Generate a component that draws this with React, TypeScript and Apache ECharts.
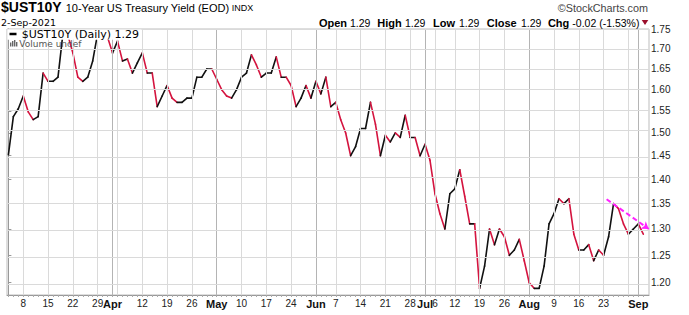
import React, { useEffect, useRef } from 'react';
import * as echarts from 'echarts';

// Daily closes, trading days 2021-03-03 .. 2021-09-02 (index = trading day)
const yields: number[] = [
  1.452, 1.537, 1.555, 1.585, 1.548, 1.53, 1.537, 1.64, 1.62, 1.62,
  1.63, 1.74, 1.735, 1.69, 1.63, 1.62, 1.63, 1.67, 1.74, 1.745,
  1.73, 1.69, 1.72, 1.67, 1.675, 1.64, 1.665, 1.69, 1.64, 1.64,
  1.56, 1.585, 1.61, 1.58, 1.57, 1.57, 1.58, 1.58, 1.63, 1.63,
  1.65, 1.65, 1.625, 1.60, 1.585, 1.58, 1.60, 1.63, 1.64, 1.685,
  1.66, 1.63, 1.64, 1.64, 1.68, 1.63, 1.63, 1.61, 1.56, 1.58,
  1.61, 1.58, 1.62, 1.59, 1.63, 1.56, 1.57, 1.53, 1.50, 1.45,
  1.47, 1.51, 1.51, 1.57, 1.52, 1.45, 1.495, 1.48, 1.50, 1.49,
  1.54, 1.49, 1.49, 1.45, 1.475, 1.44, 1.37, 1.33, 1.30, 1.37,
  1.38, 1.42, 1.365, 1.31, 1.31, 1.19, 1.23, 1.30, 1.27, 1.30,
  1.285, 1.25, 1.26, 1.28, 1.24, 1.20, 1.19, 1.19, 1.23, 1.31,
  1.33, 1.36, 1.35, 1.36, 1.29, 1.26, 1.26, 1.27, 1.24, 1.26,
  1.25, 1.285, 1.35, 1.34, 1.31, 1.29, 1.30, 1.31, 1.29,
];

const xLabelIdx = [3, 8, 13, 18, 21, 27, 32, 37, 42, 47, 52, 57, 62, 66, 71, 76, 81, 84, 86, 90, 95, 100, 105, 110, 115, 120, 127];
const xLabelText = ['8', '15', '22', '29', 'Apr', '12', '19', '26', 'May', '10', '17', '24', 'Jun', '7', '14', '21', '28', 'Jul', '6', '12', '19', '26', 'Aug', '9', '16', '23', 'Sep'];
const monthStartIdx = [21, 42, 62, 84, 105, 127];
const weekStartIdx = [3, 8, 13, 18, 22, 27, 32, 37, 47, 52, 57, 66, 71, 76, 81, 86, 90, 95, 100, 110, 115, 120, 125];
const yTickValues = [1.2, 1.25, 1.3, 1.35, 1.4, 1.45, 1.5, 1.55, 1.6, 1.65, 1.7, 1.75];
const trendStart = [120.6, 1.359];
const trendEnd = [129.1, 1.30];

const quoteLabels = ['Open', 'High', 'Low', 'Close', 'Chg'];
const quoteValues = ['1.29', '1.29', '1.29', '1.29', '-0.02 (-1.53%)'];

const RED = '#d4143f';
const BLACK = '#111111';
const SANS = '"Liberation Sans", Arial, sans-serif';
const VERD = '"DejaVu Sans", Verdana, sans-serif';

export default function App() {
  const ref = useRef<HTMLDivElement>(null);
  useEffect(() => {
    const chart = echarts.init(ref.current!, null, { renderer: 'svg' });
    const ln = Math.log;
    const segs: number[][] = [];
    for (let i = 0; i < yields.length - 1; i++) {
      segs.push([i, ln(yields[i]), i + 1, ln(yields[i + 1])]);
    }
    const gridLines: any[] = [];
    weekStartIdx.forEach((i) => gridLines.push({ xAxis: i, lineStyle: { color: '#dadada', width: 1, type: 'solid' } }));
    monthStartIdx.forEach((i) => gridLines.push({ xAxis: i, lineStyle: { color: '#b4b4b4', width: 1, type: 'solid' } }));
    yTickValues.forEach((v) => gridLines.push({ yAxis: ln(v), lineStyle: { color: '#dadada', width: 1, type: 'solid' } }));

    // label right edges and value left edges measured in the header row
    const labelEnds = [347, 401.7, 455, 516.7, 569.3];
    const valueStarts = [350, 405, 459, 521, 572.3];
    const header: any[] = [];
    quoteLabels.forEach((t, k) => {
      header.push({ type: 'text', z: 100, style: { text: t, x: labelEnds[k], y: 22.5, font: 'bold 11px ' + SANS, fill: '#000', align: 'right', verticalAlign: 'middle' } });
      header.push({ type: 'text', z: 100, style: { text: quoteValues[k], x: valueStarts[k], y: 22.5, font: '10.5px ' + SANS, fill: '#000', verticalAlign: 'middle' } });
    });

    const option: any = {
      animation: false,
      backgroundColor: '#fff',
      grid: { left: 7, right: 40, top: 29, bottom: 20, show: true, borderColor: '#bdbdbd', borderWidth: 1 },
      xAxis: {
        type: 'value', min: -0.28, max: 129.15,
        splitLine: { show: false },
        axisLine: { show: true, lineStyle: { color: '#999' } },
        axisTick: { show: true, customValues: yields.map((_, i) => i), length: 2, lineStyle: { color: '#aaa' } },
        axisLabel: {
          customValues: xLabelIdx, margin: 3, fontSize: 10, color: '#222', fontFamily: SANS,
          formatter: (v: number) => {
            const r = Math.round(v);
            const t = xLabelText[xLabelIdx.indexOf(r)] ?? '';
            return monthStartIdx.includes(r) ? `{m|${t}}` : t;
          },
          rich: { m: { fontWeight: 'bold', fontSize: 11, fontFamily: SANS, color: '#111' } },
        },
      },
      yAxis: {
        type: 'value', position: 'right', min: 0.16401, max: 0.56037,
        splitLine: { show: false },
        axisLine: { show: true, lineStyle: { color: '#999' } },
        axisTick: { show: true, customValues: yTickValues.map(ln), length: 3, lineStyle: { color: '#999' } },
        axisLabel: {
          customValues: yTickValues.map(ln), margin: 2, fontSize: 10, color: '#222', fontFamily: SANS,
          formatter: (v: number) => Math.exp(v).toFixed(2),
        },
      },
      series: [
        {
          type: 'line', data: [], z: 1, silent: true,
          markLine: { silent: true, symbol: ['none', 'none'], label: { show: false }, lineStyle: { type: 'solid' }, data: gridLines },
        },
        {
          type: 'custom', z: 3, data: segs, encode: { x: [0, 2], y: [1, 3] },
          renderItem: (params: any, api: any) => {
            const p1 = api.coord([api.value(0), api.value(1)]);
            const p2 = api.coord([api.value(2), api.value(3)]);
            const down = api.value(3) < api.value(1);
            return {
              type: 'line',
              shape: { x1: p1[0], y1: p1[1], x2: p2[0], y2: p2[1] },
              style: { stroke: down ? RED : BLACK, lineWidth: 1.6, lineCap: 'round' },
            };
          },
        },
        {
          type: 'line', data: [], z: 5, silent: true,
          markLine: {
            silent: true, symbol: ['none', 'arrow'], symbolSize: 7, label: { show: false },
            lineStyle: { color: '#ff22ff', width: 2, type: [5, 3] },
            data: [[{ coord: [trendStart[0], ln(trendStart[1])] }, { coord: [trendEnd[0], ln(trendEnd[1])] }]],
          },
        },
      ],
      graphic: [
        { type: 'text', z: 100, style: { text: '$UST10Y', x: 1, y: 7, font: 'bold 14px ' + SANS, fill: '#000', verticalAlign: 'middle' } },
        { type: 'text', z: 100, style: { text: '10-Year US Treasury Yield (EOD)', x: 65.7, y: 7.5, font: '11px ' + SANS, fill: '#000', verticalAlign: 'middle' } },
        { type: 'text', z: 100, style: { text: 'INDX', x: 231.7, y: 8, font: '9px ' + SANS, fill: '#000', verticalAlign: 'middle' } },
        { type: 'text', z: 100, style: { text: '©StockCharts.com', x: 648, y: 7.5, font: '10.8px ' + SANS, fill: '#444', align: 'right', verticalAlign: 'middle' } },
        { type: 'text', z: 100, style: { text: '2-Sep-2021', x: 1, y: 22, font: '9.5px ' + VERD, fill: '#000', verticalAlign: 'middle' } },
        ...header,
        { type: 'polygon', z: 100, shape: { points: [[641.7, 20], [648.3, 20], [645, 25]] }, style: { fill: '#9b0f2c' } },
        { type: 'rect', z: 90, shape: { x: 7.5, y: 29.5, width: 134, height: 10.3 }, style: { fill: '#fff' } },
        { type: 'line', z: 100, shape: { x1: 9.5, y1: 34, x2: 16.5, y2: 34 }, style: { stroke: '#000', lineWidth: 2.5 } },
        { type: 'text', z: 100, style: { text: '$UST10Y (Daily) 1.29', x: 21.7, y: 34, font: '11px ' + VERD, fill: '#000', verticalAlign: 'middle' } },
        { type: 'rect', z: 100, shape: { x: 10, y: 42.5, width: 1.4, height: 4 }, style: { fill: '#666' } },
        { type: 'rect', z: 100, shape: { x: 12, y: 41, width: 1.4, height: 5.5 }, style: { fill: '#666' } },
        { type: 'rect', z: 100, shape: { x: 14, y: 40, width: 1.4, height: 6.5 }, style: { fill: '#666' } },
        { type: 'rect', z: 100, shape: { x: 16, y: 42, width: 1.4, height: 4.5 }, style: { fill: '#666' } },
        { type: 'text', z: 100, style: { text: 'Volume undef', x: 19.3, y: 44, font: '9px ' + VERD, fill: '#555', verticalAlign: 'middle' } },
      ],
    };
    chart.setOption(option);
    return () => chart.dispose();
  }, []);
  return <div ref={ref} style={{ position: 'absolute', left: 0, top: 0, width: 689, height: 315, background: '#fff' }} />;
}
